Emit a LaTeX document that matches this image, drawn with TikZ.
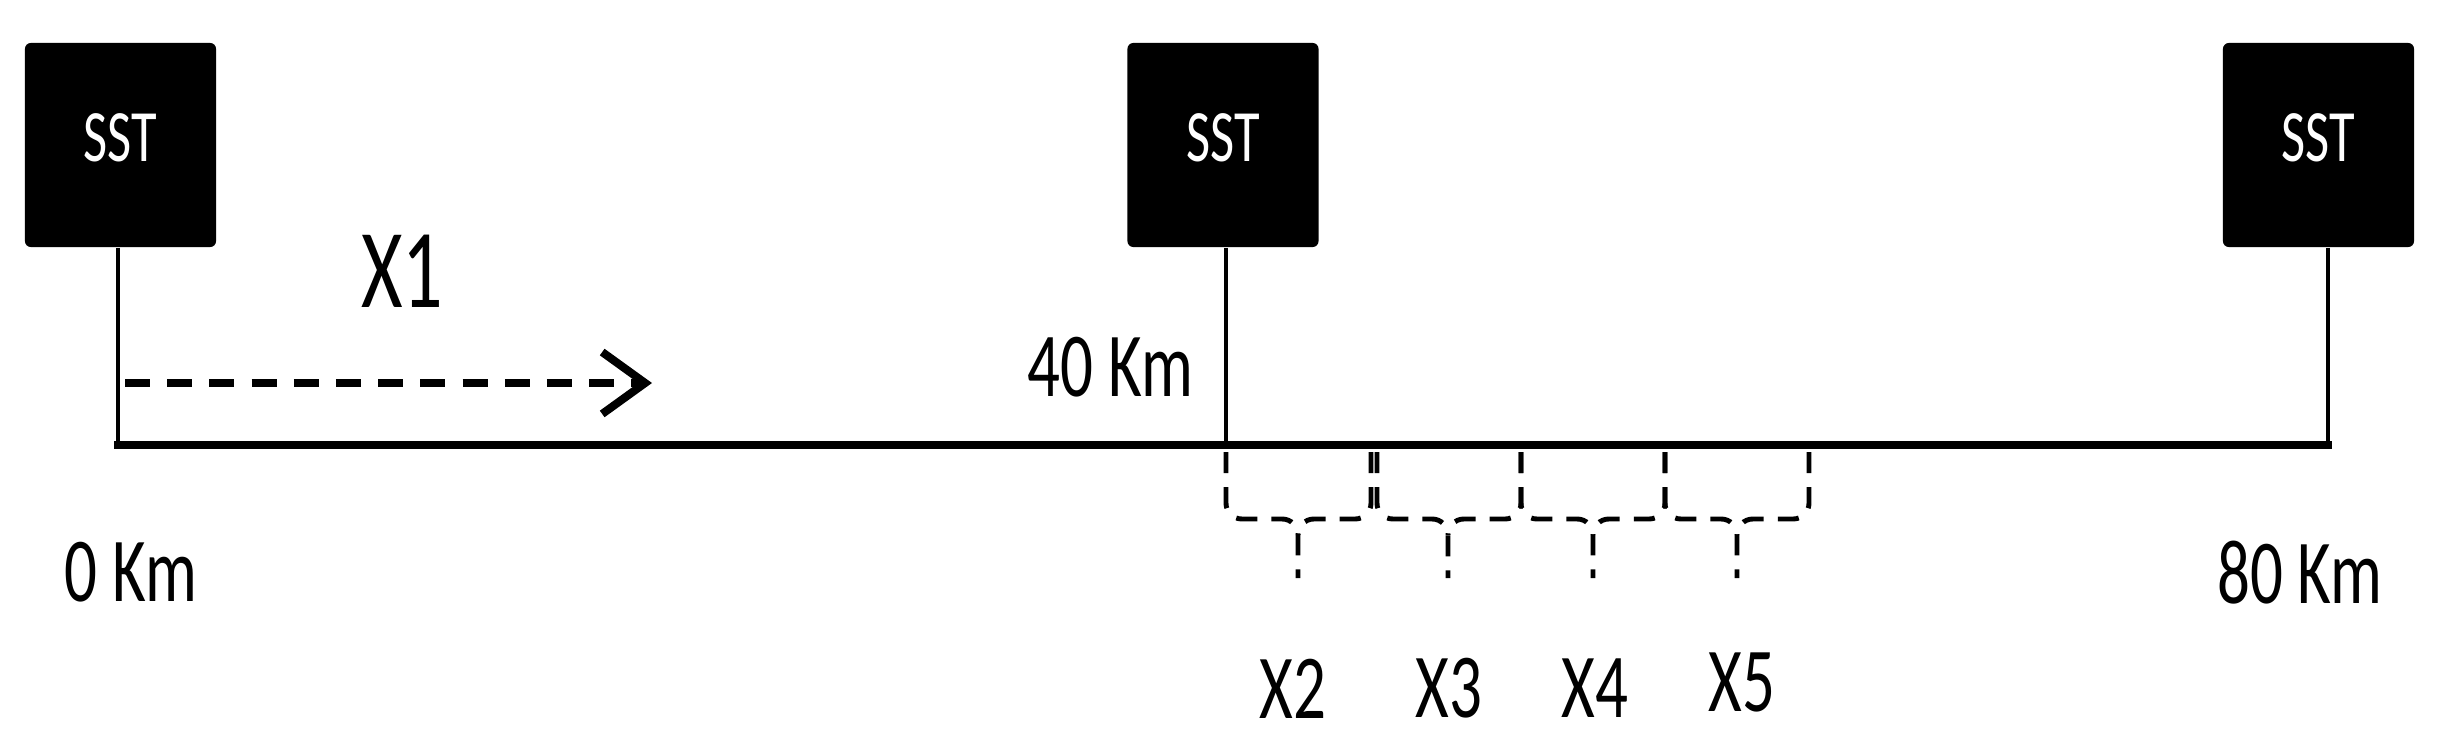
\documentclass[tikz,border=0pt]{standalone}
\usepackage{fontspec}
\usepackage{tikz}
\usetikzlibrary{arrows.meta}
\newfontfamily\diagfont{Carlito}[FakeStretch=0.71]

\begin{document}
\begin{tikzpicture}[x=0.01cm, y=-0.01cm,
    substation/.style ={rectangle, fill=black, text=white, rounded corners=1.7pt, inner sep=0pt,
        minimum width=1.91cm, minimum height=2.04cm, text depth=4.3pt,
        font=\diagfont\fontsize{21}{25}\selectfont},
    kmlabel/.style ={inner sep=0pt, font=\diagfont\fontsize{26}{31}\selectfont},
    feeder/.style ={line width=2pt, line cap=rect},
    riser/.style ={line width=1.4pt},
    splitbrace/.style ={line width=1.4pt, dash pattern=on 6pt off 4pt, rounded corners=4.5pt}]
   \useasboundingbox (0,0) rectangle (2456,748);

   \node[substation] (S1) at (120.5,145)  {SST};
   \node[substation] (S2) at (1223,145)  {SST};
   \node[substation] (S3) at (2318.5,145)  {SST};

   \coordinate (K0) at (118,445);
   \coordinate (K40) at (1226,445);
   \coordinate (K80) at (2328,445);

   \draw[riser] (S1.south -| K0) to  (K0);
   \draw[riser] (S2.south -| K40) to  (K40);
   \draw[riser] (S3.south -| K80) to  (K80);
   \draw[feeder] (K0) to  (K80);

   \node[kmlabel] (L0) at (131,572.5)  {0 Km};
   \node[kmlabel] (L40) at (1110.5,367.5)  {40 Km};
   \node[kmlabel] (L80) at (2300,572.5)  {80 Km};

   % travel direction
   \coordinate (A0) at (125,383);
   \coordinate (A1) at (652,383);
   \draw[line width=2.3pt, dash pattern=on 7.1pt off 4.9pt,
       -{Straight Barb[length=12.2pt, width=17.6pt]}] (A0) to  (A1);
   \node[inner sep=0pt, font=\diagfont\fontsize{32}{38}\selectfont] (X1) at (402,271.5)  {X1};

   % sections after 40 Km
   \foreach \xa/\xb/\xm/\lx/\ly/\n in {1226/1371/1298/1293/689/2, 1377/1521/1448/1449/688/3,
       1521/1665/1593/1595/688/4, 1665/1809/1737/1742/682/5}
   {
     \draw[splitbrace] (\xa,452) |- (\xm,519) -- (\xm,578);
     \draw[splitbrace] (\xb,452) |- (\xm,519) -- (\xm,535);
     \node[kmlabel] (X\n) at (\lx,\ly)  {X\n};
   }

 \end{tikzpicture}
\end{document}
